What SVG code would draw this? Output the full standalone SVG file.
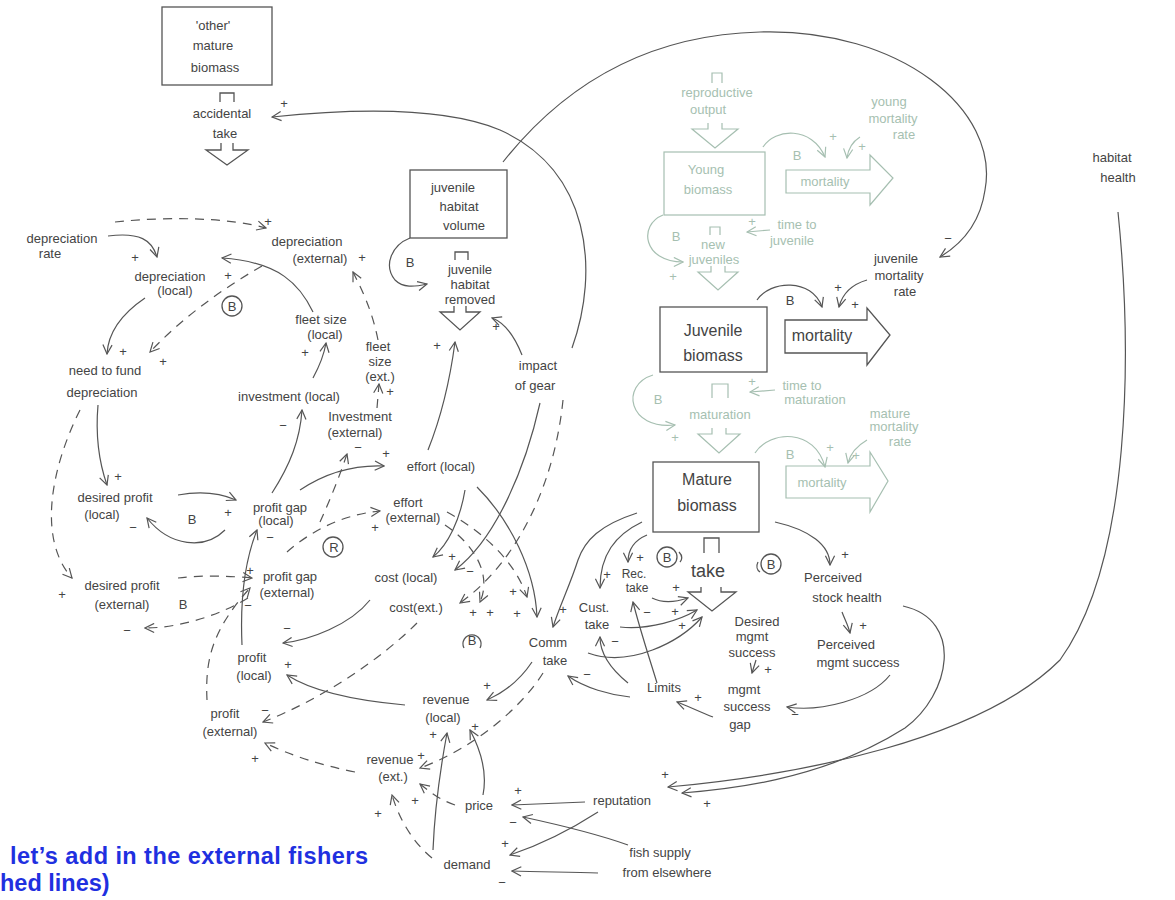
<svg xmlns="http://www.w3.org/2000/svg" width="1175" height="900" viewBox="0 0 1175 900">
<style>
.t{font-family:"Liberation Sans",Arial,sans-serif;font-size:13px;fill:#444;text-anchor:middle}
.L{font-size:16px}
.sm{font-size:12px}
.f{fill:#a6bfb1}
.c{fill:none;stroke:#555;stroke-width:1.2;marker-end:url(#a)}
.d{stroke-dasharray:9 7}
.cf{fill:none;stroke:#a6bfb1;stroke-width:1.2;marker-end:url(#af)}
.b{fill:none;stroke:#555;stroke-width:1.3}
.bf{fill:none;stroke:#a6bfb1;stroke-width:1.2}
.blue{font-family:"Liberation Sans",Arial,sans-serif;font-size:23.5px;font-weight:bold;fill:#1f30e0}
</style>
<defs>
<marker id="a" viewBox="0 0 12 12" refX="11" refY="6" markerWidth="11" markerHeight="11" orient="auto" markerUnits="userSpaceOnUse"><path d="M1,1 L11,6 L1,11" fill="none" stroke="#555" stroke-width="1.3"/></marker>
<marker id="af" viewBox="0 0 12 12" refX="11" refY="6" markerWidth="11" markerHeight="11" orient="auto" markerUnits="userSpaceOnUse"><path d="M1,1 L11,6 L1,11" fill="none" stroke="#a6bfb1" stroke-width="1.3"/></marker>
</defs>
<rect width="1175" height="900" fill="#fff"/>

<g id="connectors">
<path class="c" d="M572,348 C600,270 590,170 500,130 C440,105 340,110 272,117"/>
<path class="c" d="M503,162 C560,90 640,35 760,32 C900,28 1000,110 985,190 C980,225 960,245 940,257"/>
<path class="c" d="M108,236 C140,232 152,240 157,257"/>
<path class="c d" d="M115,222 C170,216 230,218 266,228"/>
<path class="c" d="M313,312 C300,285 280,262 222,258"/>
<path class="c d" d="M378,340 C372,310 362,290 353,272"/>
<path class="c d" d="M262,266 C220,290 180,320 150,352"/>
<path class="c" d="M145,298 C120,315 108,335 107,354"/>
<path class="c" d="M98,405 C95,440 100,465 107,485"/>
<path class="c d" d="M80,410 C50,470 38,540 72,578"/>
<path class="c" d="M178,495 C200,491 220,493 236,500"/>
<path class="c" d="M225,530 C205,550 170,547 147,518"/>
<path class="c" d="M272,493 C290,465 300,440 302,410"/>
<path class="c" d="M313,378 C320,365 324,355 326,343"/>
<path class="c d" d="M377,408 L379,384"/>
<path class="c d" d="M320,522 C330,500 340,475 347,454"/>
<path class="c" d="M300,490 C330,470 360,465 384,466"/>
<path class="c d" d="M287,552 C310,532 340,515 380,511"/>
<path class="c" d="M428,450 C440,420 450,380 455,342"/>
<path class="c" d="M522,355 C514,335 503,322 492,318"/>
<path class="c" d="M465,490 C460,520 448,545 433,557"/>
<path class="c" d="M540,403 C525,470 495,540 455,570"/>
<path class="c" d="M477,487 C510,520 535,570 537,617"/>
<path class="c d" d="M447,512 C480,530 515,560 527,597"/>
<path class="c d" d="M445,525 C475,545 492,575 480,602"/>
<path class="c d" d="M563,400 C555,480 520,560 460,603"/>
<path class="c" d="M637,513 C600,525 585,540 578,560 C570,585 560,605 553,627"/>
<path class="c" d="M642,522 C615,535 600,555 600,588"/>
<path class="c" d="M647,535 C635,540 628,548 628,562"/>
<path class="c" d="M775,522 C810,530 830,545 830,565"/>
<path class="c" d="M652,598 C664,604 676,602 688,598"/>
<path class="c" d="M620,627 C650,630 680,620 697,610"/>
<path class="c" d="M588,653 C630,668 680,642 702,617"/>
<path class="c" d="M630,697 C610,695 585,688 568,676"/>
<path class="c" d="M628,683 C612,670 600,655 600,637"/>
<path class="c" d="M657,683 C650,660 640,630 633,602"/>
<path class="c" d="M713,717 C700,712 688,706 677,702"/>
<path class="c" d="M756,660 L752,673"/>
<path class="c" d="M842,612 C845,620 848,625 850,633"/>
<path class="c" d="M890,675 C870,700 820,712 787,707"/>
<path class="c" d="M903,606 C965,620 950,695 905,728 C820,782 720,790 682,793"/>
<path class="c" d="M1118,212 C1132,350 1132,560 1060,660 C980,740 800,775 668,787"/>
<path class="c" d="M585,802 L512,805"/>
<path class="c" d="M598,812 C570,830 540,845 510,855"/>
<path class="c" d="M628,845 C600,835 560,825 523,817"/>
<path class="c" d="M598,873 C570,872 540,872 512,871"/>
<path class="c" d="M433,850 C435,800 442,760 447,733"/>
<path class="c" d="M483,795 C488,770 478,745 470,730"/>
<path class="c d" d="M455,805 C440,800 430,792 420,784"/>
<path class="c d" d="M432,858 C410,840 398,815 392,795"/>
<path class="c" d="M532,662 C520,680 505,692 487,700"/>
<path class="c d" d="M543,673 C520,710 470,750 420,768"/>
<path class="c" d="M405,705 C350,700 310,690 287,675"/>
<path class="c d" d="M355,772 C320,765 290,755 265,743"/>
<path class="c" d="M370,600 C350,625 310,640 283,643"/>
<path class="c d" d="M417,623 C380,660 320,700 263,722"/>
<path class="c" d="M242,645 C240,600 245,560 257,530"/>
<path class="c d" d="M207,700 C205,660 212,630 250,588"/>
<path class="c d" d="M178,578 C200,575 230,576 252,578"/>
<path class="c d" d="M248,598 C220,615 180,628 145,628"/>
<path class="c" d="M410,238 C392,245 383,265 395,280 C403,288 414,287 427,284"/>
<path class="c" d="M757,300 C770,280 812,278 822,307"/>
<path class="c" d="M867,280 C850,285 842,295 839,307"/>
<path class="cf" d="M763,147 C775,128 812,126 825,157"/>
<path class="cf" d="M860,137 C852,142 848,150 847,158"/>
<path class="cf" d="M663,215 C638,225 643,262 683,262"/>
<path class="cf" d="M770,230 L747,232"/>
<path class="cf" d="M653,375 C620,385 628,430 675,425"/>
<path class="cf" d="M775,390 L750,392"/>
<path class="cf" d="M755,453 C770,430 815,428 825,467"/>
<path class="cf" d="M867,440 C855,447 850,455 848,463"/>
</g>

<g id="other-mature-biomass">
<rect x="162" y="7" width="110" height="78" class="b"/>
<text class="t" x="213" y="30">'other'</text>
<text class="t" x="213" y="50">mature</text>
<text class="t" x="215" y="72">biomass</text>
</g>
<g id="accidental-take">
<path class="b" d="M220,102 V93 H234 V102"/>
<text class="t" x="222" y="118">accidental</text>
<text class="t" x="225" y="138">take</text>
<path class="b" d="M221,143 V150 H206 L227,165 L248,150 H233 V143"/>
<text class="t" x="284" y="108">+</text>
</g>
<g id="depreciation-rate">
<text class="t" x="62" y="243">depreciation</text>
<text class="t" x="50" y="258">rate</text>
</g>
<g id="depreciation-external">
<text class="t" x="268" y="226">+</text>
<text class="t" x="307" y="246">depreciation</text>
<text class="t" x="320" y="263">(external)</text>
<text class="t" x="362" y="262">+</text>
</g>
<g id="depreciation-local">
<text class="t" x="135" y="262">+</text>
<text class="t" x="170" y="281">depreciation</text>
<text class="t" x="175" y="295">(local)</text>
<text class="t" x="228" y="280">+</text>
<circle cx="232" cy="306" r="10" class="b"/>
<text class="t" x="232" y="311">B</text>
</g>
<g id="fleet-size-local">
<text class="t" x="321" y="324">fleet size</text>
<text class="t" x="325" y="339">(local)</text>
<text class="t" x="305" y="357">+</text>
</g>
<g id="fleet-size-ext">
<text class="t" x="378" y="351">fleet</text>
<text class="t" x="380" y="366">size</text>
<text class="t" x="380" y="381">(ext.)</text>
<text class="t" x="390" y="396">+</text>
</g>
<g id="investment-local">
<text class="t" x="289" y="401">investment (local)</text>
<text class="t" x="283" y="430">−</text>
</g>
<g id="investment-external">
<text class="t" x="360" y="421">Investment</text>
<text class="t" x="355" y="437">(external)</text>
<text class="t" x="358" y="452">−</text>
</g>
<g id="need-to-fund-depreciation">
<text class="t" x="123" y="356">+</text>
<text class="t" x="163" y="366">+</text>
<text class="t" x="105" y="375">need to fund</text>
<text class="t" x="102" y="397">depreciation</text>
</g>
<g id="desired-profit-local">
<text class="t" x="118" y="481">+</text>
<text class="t" x="115" y="502">desired profit</text>
<text class="t" x="102" y="519">(local)</text>
<text class="t" x="192" y="524">B</text>
<text class="t" x="133" y="532">−</text>
</g>
<g id="profit-gap-local">
<text class="t" x="228" y="517">+</text>
<text class="t" x="280" y="512">profit gap</text>
<text class="t" x="276" y="525">(local)</text>
<text class="t" x="270" y="542">−</text>
</g>
<g id="effort-local">
<text class="t" x="386" y="458">+</text>
<text class="t" x="441" y="471">effort (local)</text>
</g>
<g id="effort-external">
<text class="t" x="408" y="507">effort</text>
<text class="t" x="413" y="522">(external)</text>
<text class="t" x="375" y="532">+</text>
<circle cx="333" cy="547" r="10" class="b"/>
<text class="t" x="334" y="552">R</text>
</g>
<g id="profit-gap-external">
<text class="t" x="250" y="575">+</text>
<text class="t" x="290" y="581">profit gap</text>
<text class="t" x="287" y="597">(external)</text>
<text class="t" x="248" y="610">−</text>
</g>
<g id="desired-profit-external">
<text class="t" x="62" y="599">+</text>
<text class="t" x="122" y="590">desired profit</text>
<text class="t" x="122" y="609">(external)</text>
<text class="t" x="183" y="609">B</text>
<text class="t" x="127" y="635">−</text>
</g>
<g id="profit-local">
<text class="t" x="287" y="633">−</text>
<text class="t" x="252" y="662">profit</text>
<text class="t" x="254" y="680">(local)</text>
<text class="t" x="288" y="669">+</text>
</g>
<g id="profit-external">
<text class="t" x="265" y="715">−</text>
<text class="t" x="225" y="718">profit</text>
<text class="t" x="230" y="736">(external)</text>
<text class="t" x="255" y="763">+</text>
</g>
<g id="cost-local">
<text class="t" x="452" y="561">+</text>
<text class="t" x="406" y="582">cost (local)</text>
<text class="t" x="470" y="576">−</text>
</g>
<g id="cost-ext">
<text class="t" x="416" y="612">cost(ext.)</text>
<text class="t" x="473" y="617">+</text>
<text class="t" x="490" y="617">+</text>
<text class="t" x="513" y="596">+</text>
<text class="t" x="517" y="618">+</text>
<text class="t" x="472" y="645">B</text>
<path class="b" d="M464,648 A9,9 0 1 1 480,648"/>
</g>
<g id="comm-take">
<text class="t" x="563" y="614">+</text>
<text class="t" x="548" y="647">Comm</text>
<text class="t" x="555" y="665">take</text>
<text class="t" x="587" y="679">−</text>
</g>
<g id="revenue-local">
<text class="t" x="487" y="690">+</text>
<text class="t" x="446" y="704">revenue</text>
<text class="t" x="443" y="722">(local)</text>
<text class="t" x="433" y="739">+</text>
<text class="t" x="475" y="731">+</text>
</g>
<g id="revenue-ext">
<text class="t" x="390" y="764">revenue</text>
<text class="t" x="421" y="760">+</text>
<text class="t" x="393" y="781">(ext.)</text>
<text class="t" x="415" y="805">+</text>
<text class="t" x="378" y="818">+</text>
</g>
<g id="price">
<text class="t" x="479" y="810">price</text>
<text class="t" x="518" y="795">+</text>
<text class="t" x="513" y="827">−</text>
</g>
<g id="demand">
<text class="t" x="505" y="848">+</text>
<text class="t" x="467" y="869">demand</text>
<text class="t" x="502" y="887">−</text>
</g>
<g id="reputation">
<text class="t" x="665" y="779">+</text>
<text class="t" x="622" y="805">reputation</text>
<text class="t" x="707" y="808">+</text>
</g>
<g id="fish-supply">
<text class="t" x="660" y="857">fish supply</text>
<text class="t" x="667" y="877">from elsewhere</text>
</g>
<g id="habitat-health">
<text class="t" x="1112" y="162">habitat</text>
<text class="t" x="1118" y="182">health</text>
</g>
<g id="impact-of-gear">
<text class="t" x="538" y="370">impact</text>
<text class="t" x="535" y="390">of gear</text>
<text class="t" x="496" y="331">+</text>
</g>
<g id="juvenile-habitat-volume">
<rect x="410" y="170" width="97" height="68" class="b"/>
<text class="t" x="453" y="192">juvenile</text>
<text class="t" x="459" y="211">habitat</text>
<text class="t" x="464" y="230">volume</text>
<text class="t" x="410" y="267">B</text>
</g>
<g id="juvenile-habitat-removed">
<path class="b" d="M455,260 V252 H468 V260"/>
<text class="t" x="470" y="274">juvenile</text>
<text class="t" x="470" y="289">habitat</text>
<text class="t" x="470" y="304">removed</text>
<path class="b" d="M454,306 V312 H440 L460,330 L480,312 H466 V306"/>
<text class="t" x="437" y="350">+</text>
</g>
<g id="reproductive-output">
<path class="bf" d="M712,83 V73 H722 V83"/>
<text class="t f" x="717" y="97">reproductive</text>
<text class="t f" x="708" y="114">output</text>
<path class="bf" d="M708,123 V129 H692 L715,148 L738,129 H722 V123"/>
</g>
<g id="young-biomass">
<rect x="664" y="152" width="101" height="63" class="bf"/>
<text class="t f" x="706" y="174">Young</text>
<text class="t f" x="708" y="194">biomass</text>
<text class="t f" x="797" y="160">B</text>
<text class="t f" x="833" y="141">+</text>
<text class="t f" x="862" y="151">+</text>
</g>
<g id="young-mortality-rate">
<text class="t f" x="889" y="106">young</text>
<text class="t f" x="893" y="123">mortality</text>
<text class="t f" x="904" y="139">rate</text>
</g>
<g id="young-mortality">
<path class="bf" d="M786,170 H870 V155 L893,178 L870,205 V193 H786 Z"/>
<text class="t f" x="825" y="186">mortality</text>
</g>
<g id="new-juveniles">
<text class="t f" x="676" y="241">B</text>
<path class="bf" d="M710,235 V227 H720 V235"/>
<text class="t f" x="713" y="249">new</text>
<text class="t f" x="714" y="264">juveniles</text>
<text class="t f" x="752" y="226">+</text>
<text class="t f" x="673" y="281">+</text>
<path class="bf" d="M711,266 V272 H698 L718,290 L738,272 H725 V266"/>
</g>
<g id="time-to-juvenile">
<text class="t f" x="797" y="229">time to</text>
<text class="t f" x="792" y="245">juvenile</text>
</g>
<g id="juvenile-mortality-rate">
<text class="t" x="896" y="263">juvenile</text>
<text class="t" x="899" y="280">mortality</text>
<text class="t" x="905" y="296">rate</text>
<text class="t" x="948" y="243">−</text>
<text class="t" x="838" y="292">+</text>
<text class="t" x="855" y="309">+</text>
</g>
<g id="juvenile-biomass">
<rect x="660" y="307" width="107" height="65" class="b"/>
<text class="t L" x="713" y="336">Juvenile</text>
<text class="t L" x="713" y="361">biomass</text>
<text class="t" x="790" y="305">B</text>
</g>
<g id="juvenile-mortality">
<path class="b" d="M785,320 H867 V308 L890,335 L867,365 V353 H785 Z"/>
<text class="t L" x="822" y="341">mortality</text>
</g>
<g id="maturation">
<text class="t f" x="658" y="404">B</text>
<path class="bf" d="M712,398 V384 H728 V398"/>
<text class="t f" x="720" y="419">maturation</text>
<text class="t f" x="752" y="386">+</text>
<text class="t f" x="675" y="442">+</text>
<path class="bf" d="M712,428 V434 H698 L719,453 L740,434 H726 V428"/>
</g>
<g id="time-to-maturation">
<text class="t f" x="802" y="390">time to</text>
<text class="t f" x="815" y="404">maturation</text>
</g>
<g id="mature-mortality-rate">
<text class="t f" x="890" y="418">mature</text>
<text class="t f" x="894" y="431">mortality</text>
<text class="t f" x="900" y="446">rate</text>
<text class="t f" x="790" y="459">B</text>
<text class="t f" x="830" y="452">+</text>
<text class="t f" x="856" y="460">+</text>
</g>
<g id="mature-mortality">
<path class="bf" d="M786,466 H870 V452 L888,481 L870,512 V498 H786 Z"/>
<text class="t f" x="822" y="487">mortality</text>
</g>
<g id="mature-biomass">
<rect x="653" y="462" width="106" height="70" class="b"/>
<text class="t L" x="707" y="485">Mature</text>
<text class="t L" x="707" y="511">biomass</text>
</g>
<g id="take">
<path class="b" d="M704,553 V538 H719 V553"/>
<text class="t" x="708" y="577" style="font-size:18px">take</text>
<path class="b" d="M701,587 V592 H688 L712,611 L736,592 H721 V587"/>
<circle cx="667" cy="557" r="10" class="b"/>
<text class="t" x="667" y="562">B</text>
<path class="b" d="M679,552 C683,556 682,560 680,562"/>
<circle cx="771" cy="564" r="10" class="b"/>
<text class="t" x="771" y="569">B</text>
<path class="b" d="M758,562 C756,566 757,570 760,572"/>
<text class="t" x="640" y="562">+</text>
<text class="t" x="676" y="592">+</text>
<text class="t" x="675" y="616">+</text>
<text class="t" x="682" y="630">+</text>
</g>
<g id="rec-take">
<text class="t" x="607" y="579">+</text>
<text class="t sm" x="634" y="578">Rec.</text>
<text class="t sm" x="637" y="592">take</text>
<text class="t" x="647" y="617">−</text>
</g>
<g id="cust-take">
<text class="t" x="594" y="612">Cust.</text>
<text class="t" x="597" y="629">take</text>
<text class="t" x="615" y="646">−</text>
</g>
<g id="perceived-stock-health">
<text class="t" x="845" y="559">+</text>
<text class="t" x="833" y="582">Perceived</text>
<text class="t" x="847" y="602">stock health</text>
<text class="t" x="863" y="630">+</text>
</g>
<g id="perceived-mgmt-success">
<text class="t" x="846" y="649">Perceived</text>
<text class="t" x="858" y="667">mgmt success</text>
</g>
<g id="desired-mgmt-success">
<text class="t" x="757" y="626">Desired</text>
<text class="t" x="752" y="641">mgmt</text>
<text class="t" x="752" y="657">success</text>
<text class="t" x="768" y="674">+</text>
</g>
<g id="mgmt-success-gap">
<text class="t" x="744" y="694">mgmt</text>
<text class="t" x="747" y="711">success</text>
<text class="t" x="740" y="729">gap</text>
<text class="t" x="795" y="719">−</text>
</g>
<g id="limits">
<text class="t" x="664" y="692">Limits</text>
<text class="t" x="698" y="702">+</text>
</g>
<g id="caption">
<text class="blue" x="10" y="864" textLength="358" lengthAdjust="spacing">let’s add in the external fishers</text>
<text class="blue" x="0" y="891">hed lines)</text>
</g>
</svg>
